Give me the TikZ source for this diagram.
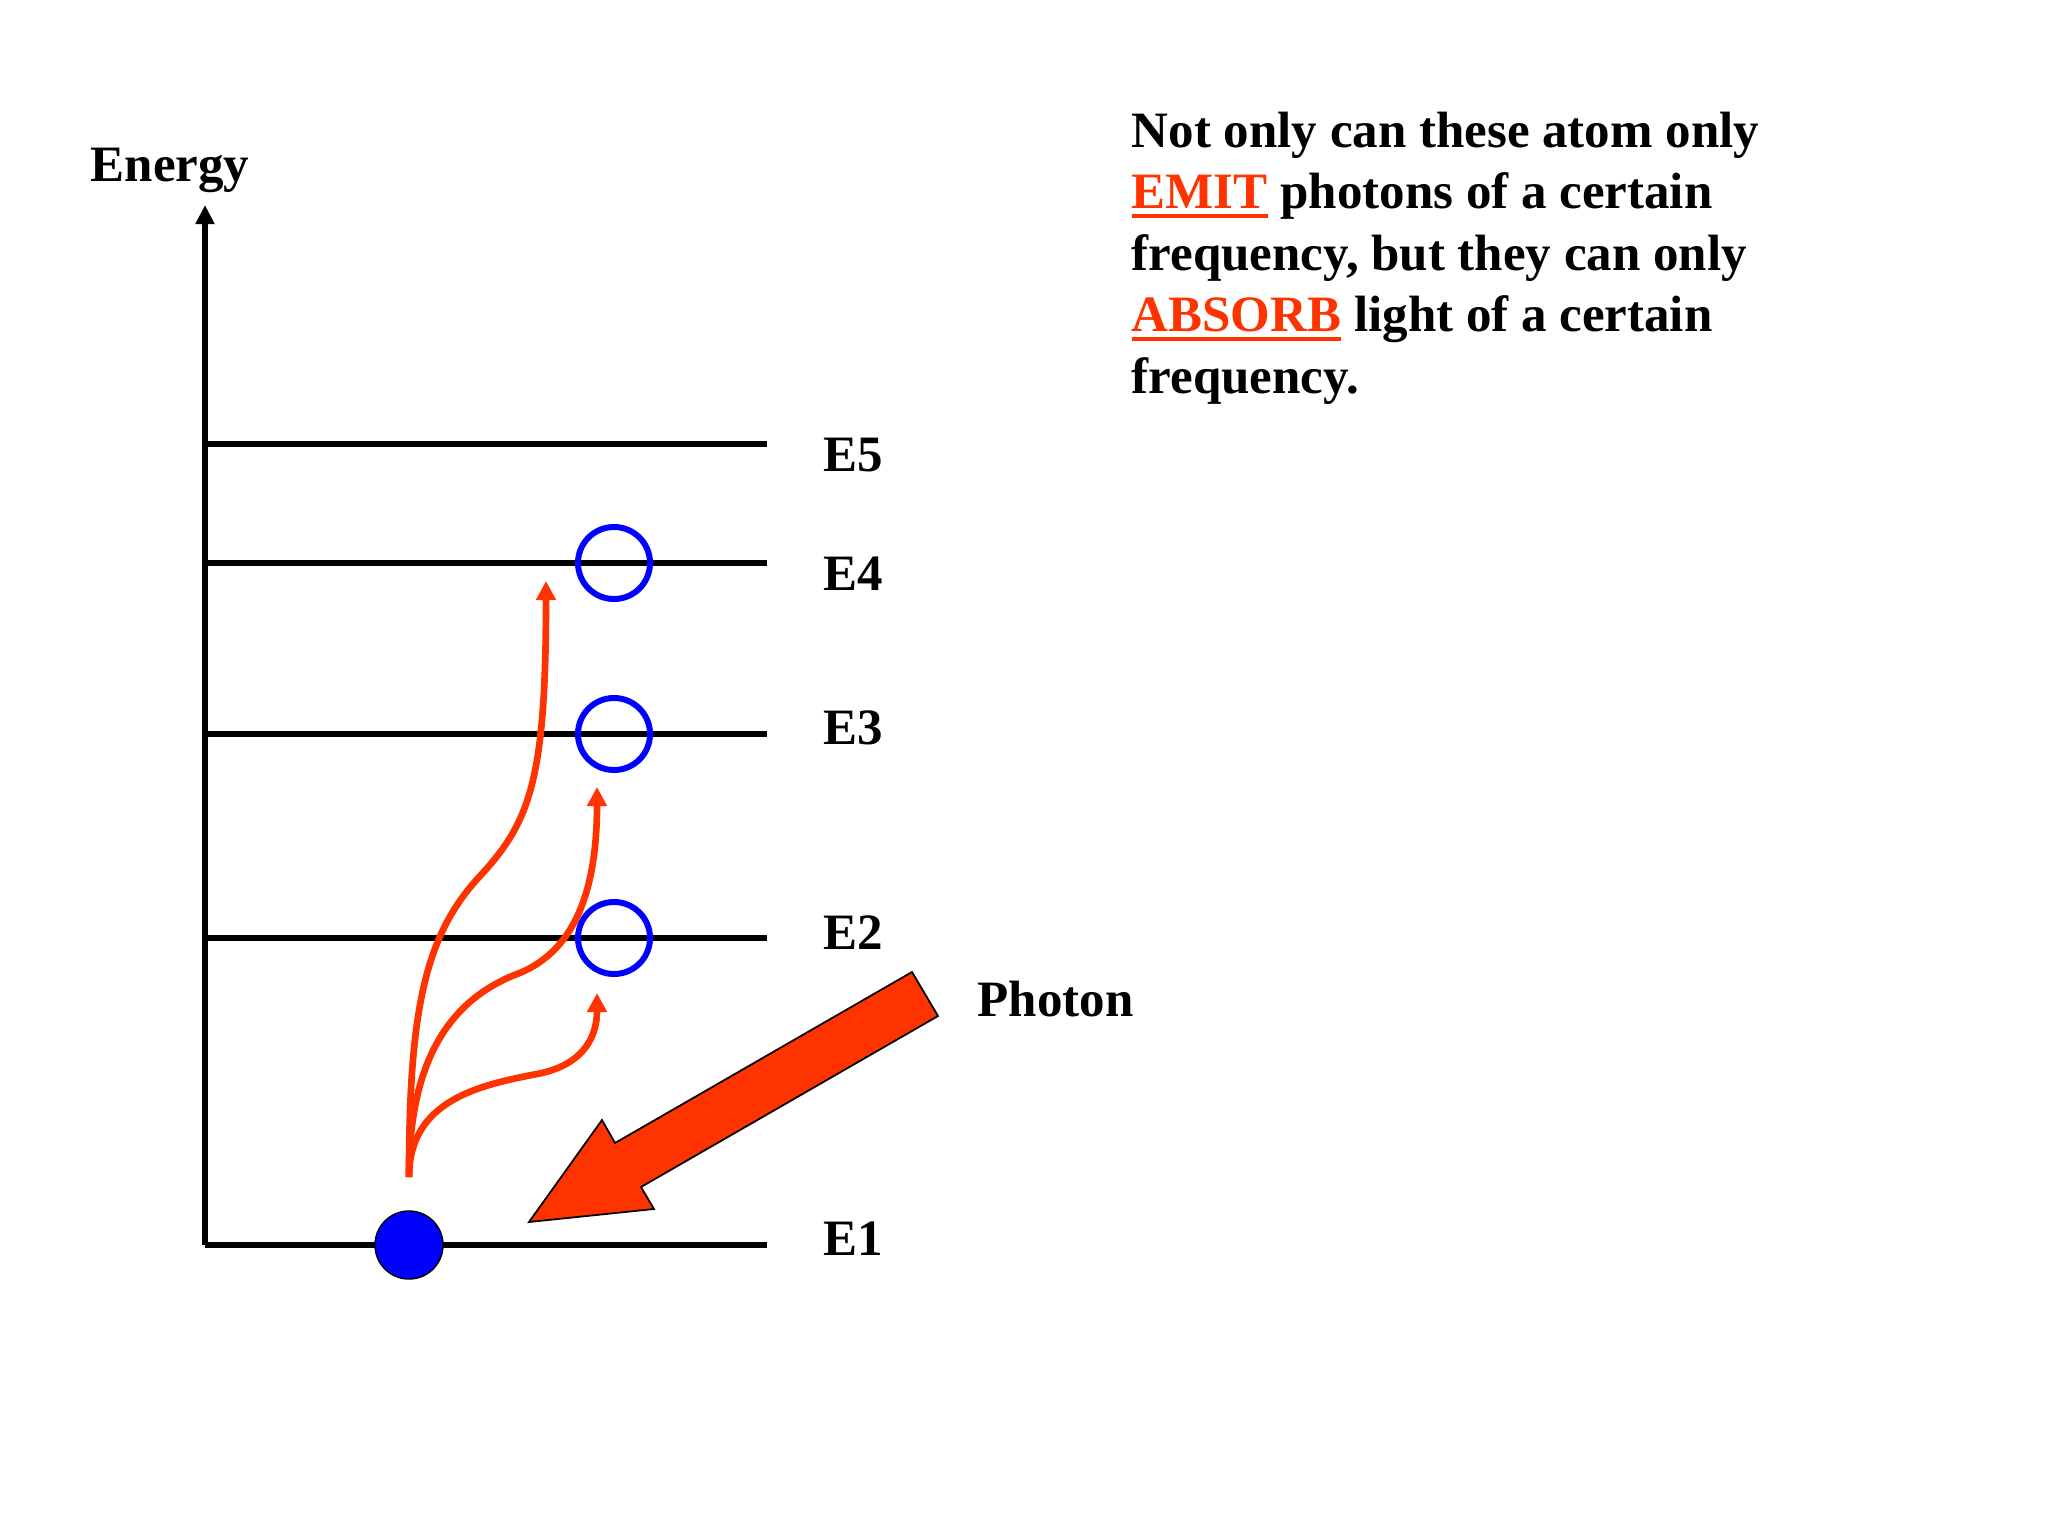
\documentclass[tikz,border=0pt]{standalone}
\usepackage{fontspec}
\setmainfont{Liberation Serif}
\usepackage{xcolor}
\usetikzlibrary{arrows.meta}
\definecolor{photonred}{RGB}{255,51,0}
\newcommand{\redword}[1]{\textcolor{photonred}{\setbox0\hbox{#1}\rlap{\rule[-2.6pt]{\wd0}{1pt}}\box0}}

\begin{document}
\begin{tikzpicture}[x=0.01cm, y=-0.01cm,
    every node/.style = {font=\fontsize{14.5}{17.5}\selectfont\bfseries, inner sep=0},
    level/.style = {line width=1.6pt},
    hole/.style = {circle, draw=blue, line width=1.7pt, minimum size=0.72cm},
    electron/.style = {circle, draw=black, fill=blue, line width=0.4pt, minimum size=0.68cm},
    jump/.style = {draw=photonred, line width=1.9pt, -{Triangle[width=0.19cm, length=0.19cm]}},
    photon/.style = {fill=photonred, draw=black, line width=0.5pt, line join=miter}]
  \useasboundingbox (0,0) rectangle (2048,1536);
  % energy axis
  \coordinate (origin) at (205,1245);
  \coordinate (top) at (205,205);
  \draw[level, -{Triangle[width=0.18cm, length=0.19cm]}] (origin) -- (top);
  \node[anchor=base west] (energy) at (90,181) {Energy};
  % levels
  \foreach \n/\y/\ly in {1/1245/1255, 2/938/949, 3/734/744, 4/563/590, 5/444/471} {
    \coordinate (L\n) at (205,\y);
    \coordinate (R\n) at (767,\y);
    \draw[level] (L\n) -- (R\n);
    \node[anchor=base west] (E\n) at (823,\ly) {E\n};
  }
  % empty places
  \foreach \n/\y in {2/938, 3/734, 4/563}
    \node[hole] (h\n) at (614,\y) {};
  \node[electron] (e) at (409,1245) {};
  % jumps
  \coordinate (start) at (409,1177);
  \coordinate (t4) at (546,581);
  \coordinate (t3) at (597,787);
  \coordinate (t2) at (597,993);
  \draw[jump] (start) .. controls (409,1010) and (425,935) .. (480,876)
    .. controls (530,822) and (546,780) .. (t4);
  \draw[jump] (start) .. controls (409,1060) and (450,1000) .. (517,974)
    .. controls (580,950) and (597,880) .. (t3);
  \draw[jump] (start) .. controls (409,1100) and (480,1085) .. (537,1074)
    .. controls (580,1066) and (597,1040) .. (t2);
  % incoming photon
  \draw[photon] (912,972) -- (938,1016) -- (641,1187) -- (654,1209)
    -- (529,1222) -- (602,1120) -- (615,1143) -- cycle;
  \node[anchor=base west] (photonlabel) at (977,1016) {Photon};
  % text
  \node[anchor=north west, align=left] (note) at (1131,111)
    {Not only can these atom only\\
     \redword{EMIT} photons of a certain\\
     frequency, but they can only\\
     \redword{ABSORB} light of a certain\\
     frequency.};
\end{tikzpicture}
\end{document}
